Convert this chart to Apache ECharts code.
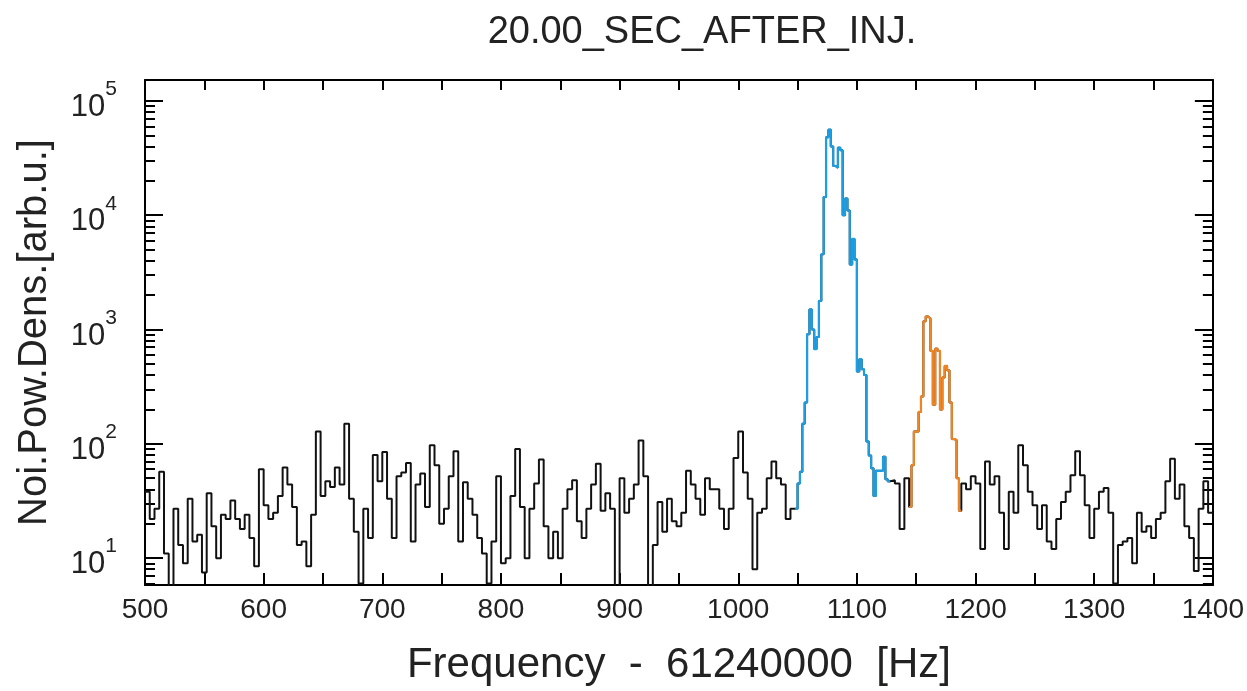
<!DOCTYPE html>
<html>
<head>
<meta charset="utf-8">
<script src="https://cdn.jsdelivr.net/npm/echarts@6/dist/echarts.min.js"></script>
<style>
html,body{margin:0;padding:0;background:#fff;}
#chart{width:1247px;height:691px;}
</style>
</head>
<body>
<div id="chart"></div>
<script>
// ---- data ----
// noise 500-1048 Hz, 4 Hz bins
const noiseA = [38,22,27,57,11,5.5,27,13,9,33,14,16,7.5,37,19,10,24,22,32,22,18,24,15,8.5,60,29,22,25,35,62,44,28,13,14,8.5,24,128,35,47,42,62,44,150,33,17,6,27,15,80,47,85,33,15,52,56,68,14,44,55,28,97,65,20,27,52,86,14,46,33,24,15,11,6,14,52,9,10,35,90,28,10,27,45,73,19,10,17,10,27,40,48,21,15,27,44,67,26,37,27,5.5,50,25,33,44,107,52,5.5,13,31,17,33,21,19,25,58,44,33,24,50,40,40,27,18,27,75,128,56,33,8,25,27,50,70,50,44,22,27];
// blue peak 1048-1128 Hz, 2 Hz bins
const peakBlue = [27,45,57,150,230,910,1500,1000,675,860,1780,4560,14400,48000,56000,40000,27000,26000,39000,37000,10000,14000,11000,3700,6200,4100,430,550,450,400,105,79,61,35,58,58,58,77,49,47];
// noise 1128-1144 Hz, 4 Hz bins
const noiseB = [48,45,18,50];
// orange peak 1144-1188 Hz, 2 Hz bins
const peakOrange = [28,65,128,128,190,260,1180,1300,1250,650,220,680,650,200,380,480,440,230,110,108,50,26];
// noise 1188-1400 Hz, 4 Hz bins
const noiseC = [45,40,52,45,12,70,44,52,25,12,38,25,97,65,38,29,18,29,14,12,22,31,38,53,86,53,29,15,27,38,41,25,6,13,14,15,9,25,17,19,15,22,25,47,74,33,44,19,15,7.7,27,47,25];

const segStarts = [500, 1048, 1128, 1144, 1188];
const segWidths = [4, 2, 4, 2, 4];
const xEnd = 1400;

const xTickLabels = [500,600,700,800,900,1000,1100,1200,1300,1400];
const yMajorTicks = [10,100,1000,10000,100000];
const yMinorTicks = [6,7,8,9,20,30,40,50,60,70,80,90,200,300,400,500,600,700,800,900,2000,3000,4000,5000,6000,7000,8000,9000,20000,30000,40000,50000,60000,70000,80000,90000];

const titleText = '20.00_SEC_AFTER_INJ.';
const xName = 'Frequency  -  61240000  [Hz]';
const yName = 'Noi.Pow.Dens.[arb.u.]';

// ---- build step points ----
const segs = [noiseA, peakBlue, noiseB, peakOrange, noiseC];
function segPoints(k) {
  const pts = segs[k].map((v, i) => [segStarts[k] + i * segWidths[k], v]);
  const endX = k + 1 < segs.length ? segStarts[k + 1] : xEnd;
  pts.push([endX, segs[k][segs[k].length - 1]]);
  return pts;
}
let allPts = [];
for (let k = 0; k < segs.length; k++) {
  const p = segPoints(k);
  allPts = allPts.concat(k + 1 < segs.length ? p.slice(0, -1) : p);
}
const bluePts = segPoints(1);
const orangePts = segPoints(3);

const FONT = "'Liberation Sans','Arimo',sans-serif";
const TXT = '#222';
const yMin = 5.82, yMax = 152400;

function yAxisDef(pos, isMajor, showLabel) {
  const a = {
    type: 'log', logBase: 10, position: pos, min: yMin, max: yMax,
    axisLine: {show: isMajor, lineStyle: {color: '#000', width: 2}},
    splitLine: {show: false},
    axisTick: {show: true, inside: true, length: isMajor ? 18 : 10,
      customValues: isMajor ? yMajorTicks : yMinorTicks,
      lineStyle: {color: '#000', width: 2}},
    axisLabel: {show: false}
  };
  if (showLabel) {
    a.axisLabel = {
      show: true, customValues: yMajorTicks, margin: 28,
      formatter: v => '{b|10}{s|' + Math.round(Math.log10(v)) + '}',
      rich: {
        b: {fontFamily: FONT, fontSize: 31, color: TXT, lineHeight: 44, verticalAlign: 'bottom'},
        s: {fontFamily: FONT, fontSize: 21, color: TXT, lineHeight: 21, verticalAlign: 'top'}
      }
    };
    a.name = yName;
    a.nameLocation = 'middle';
    a.nameGap = 90;
    a.nameTextStyle = {fontFamily: FONT, fontSize: 40, color: TXT};
  }
  return a;
}

const chart = echarts.init(document.getElementById('chart'), null, {renderer: 'canvas'});
chart.setOption({
  animation: false,
  backgroundColor: '#fff',
  title: {
    text: titleText, left: 697, top: 9, textAlign: 'center',
    textStyle: {fontFamily: FONT, fontSize: 38, fontWeight: 'normal', color: TXT}
  },
  grid: {left: 145, right: 34, top: 80, bottom: 105},
  xAxis: [
    {
      type: 'value', position: 'bottom', min: 500, max: 1400, interval: 50,
      axisLine: {lineStyle: {color: '#000', width: 2}},
      splitLine: {show: false},
      axisTick: {inside: true, length: 12, lineStyle: {color: '#000', width: 2}},
      axisLabel: {customValues: xTickLabels, margin: 11, fontFamily: FONT, fontSize: 28, color: TXT,
        formatter: v => String(v)},
      name: xName, nameLocation: 'middle', nameGap: 59,
      nameTextStyle: {fontFamily: FONT, fontSize: 42, color: TXT}
    },
    {
      type: 'value', position: 'top', min: 500, max: 1400, interval: 50,
      axisLine: {lineStyle: {color: '#000', width: 2}},
      splitLine: {show: false},
      axisTick: {inside: true, length: 10, lineStyle: {color: '#000', width: 2}},
      axisLabel: {show: false}
    }
  ],
  yAxis: [
    yAxisDef('left', true, true),
    yAxisDef('left', false, false),
    yAxisDef('right', true, false),
    yAxisDef('right', false, false)
  ],
  series: [
    {type: 'line', step: 'end', data: allPts, showSymbol: false, symbol: 'none',
     lineStyle: {color: '#111', width: 2}, z: 2, xAxisIndex: 0, yAxisIndex: 0},
    {type: 'line', step: 'end', data: bluePts, showSymbol: false, symbol: 'none',
     lineStyle: {color: '#1d9ee2', width: 2.2}, z: 3, xAxisIndex: 0, yAxisIndex: 0},
    {type: 'line', step: 'end', data: orangePts, showSymbol: false, symbol: 'none',
     lineStyle: {color: '#ef8524', width: 2.2}, z: 3, xAxisIndex: 0, yAxisIndex: 0}
  ]
});
</script>
</body>
</html>
